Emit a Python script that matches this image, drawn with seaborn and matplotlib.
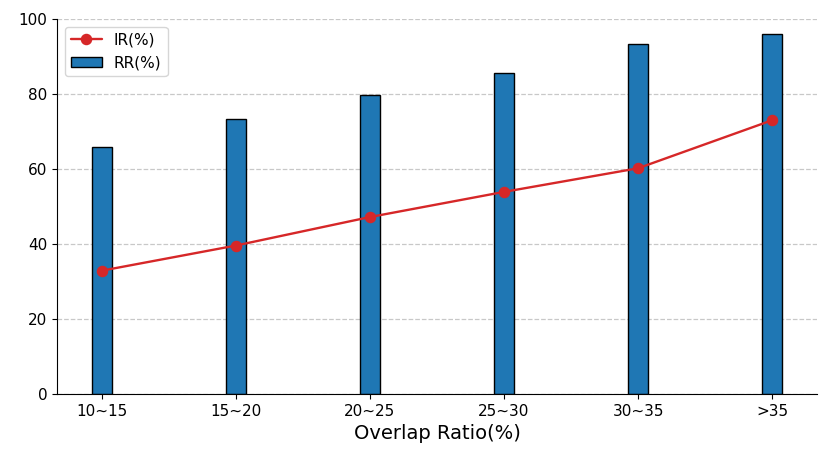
import matplotlib
matplotlib.use("Agg")
import matplotlib.pyplot as plt
import seaborn as sns
import pandas as pd

categories = ["10~15", "15~20", "20~25", "25~30", "30~35", ">35"]
rr_values = [65.8, 73.4, 79.8, 85.5, 93.3, 95.9]
ir_values = [32.9, 39.6, 47.2, 53.9, 60.2, 73.0]
y_ticks = [0, 20, 40, 60, 80, 100]

sns.set_style("ticks", rc={"text.color": "black", "axes.labelcolor": "black",
                           "xtick.color": "black", "ytick.color": "black",
                           "axes.edgecolor": "black"})
plt.rcParams['font.family'] = ['DejaVu Sans']

df = pd.DataFrame({"cat": categories, "RR": rr_values, "IR": ir_values})

fig = plt.figure(figsize=(8.3, 4.62), dpi=100)
ax = fig.add_axes([0.069, 0.147, 0.915, 0.812])

sns.barplot(data=df, x="cat", y="RR", color="#1f77b4", saturation=1,
            width=0.15, edgecolor="black", linewidth=1.0, label="RR(%)", ax=ax)
sns.pointplot(data=df, x="cat", y="IR", color="#d62728", errorbar=None,
              markers="o", linestyles="-", markersize=7, linewidth=1.7,
              label="IR(%)", ax=ax)

ax.set_xlim(-0.3325, 5.3325)
ax.set_ylim(0, 100)
ax.set_yticks(y_ticks)
ax.grid(axis="y", linestyle="--", color="#c8c8c8", linewidth=0.9)
ax.set_axisbelow(True)
for side in ["top", "right"]:
    ax.spines[side].set_visible(False)
ax.set_xlabel("Overlap Ratio(%)", fontsize=14)
ax.set_ylabel("")
ax.tick_params(axis="both", labelsize=11, colors="black")

handles, labels = ax.get_legend_handles_labels()
order = sorted(range(len(labels)), key=lambda i: 0 if labels[i] == "IR(%)" else 1)
ax.legend([handles[i] for i in order], [labels[i] for i in order],
          loc="upper left", fontsize=11, frameon=True)

fig.savefig("out.png", dpi=100)
